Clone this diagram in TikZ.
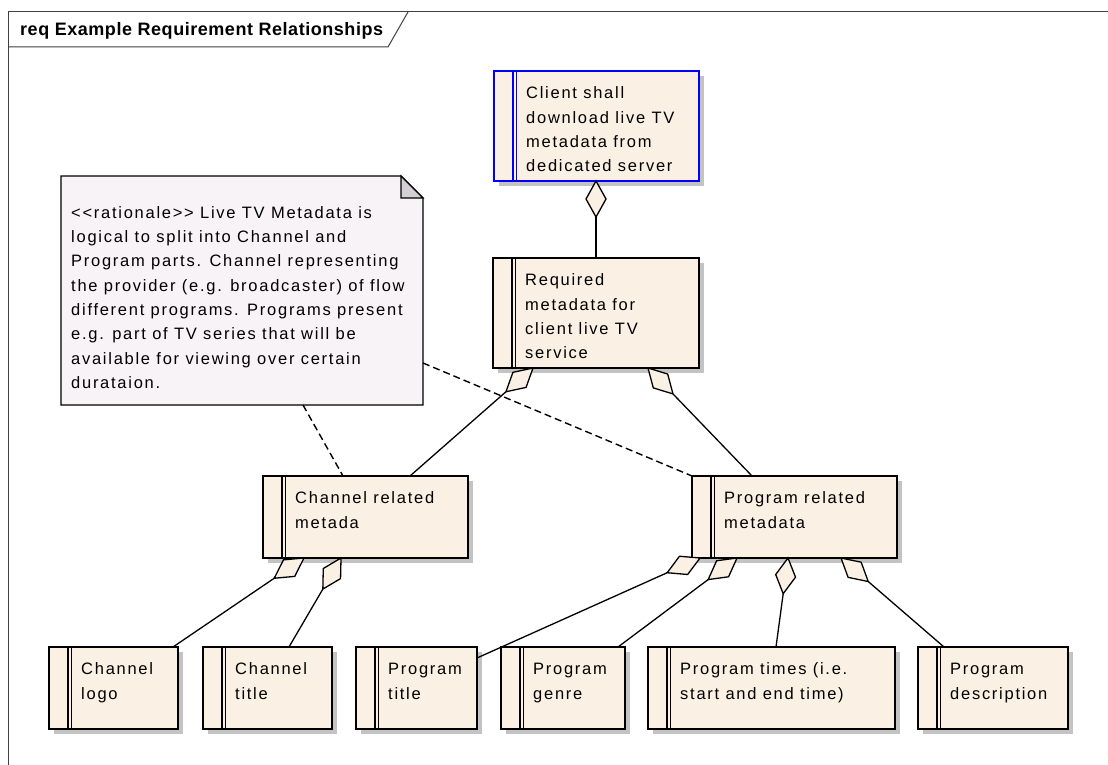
\documentclass[tikz,border=0pt]{standalone}
\usepackage{fontspec}
\setmainfont{Liberation Sans}
\newfontfamily\bodyfont{Liberation Sans}[LetterSpace=10.5]
\newfontfamily\headfont{Liberation Sans}[LetterSpace=3]
\usetikzlibrary{calc}

\definecolor{reqfill}{HTML}{FAF0E4}
\definecolor{notefill}{HTML}{F7F3F7}
\definecolor{foldfill}{HTML}{D3D0D3}
\definecolor{shadowgray}{HTML}{C3C3C3}
\definecolor{selblue}{HTML}{0000FF}
\definecolor{framegray}{HTML}{404040}

% requirement block: [border colour]{name}{x}{y}{width}{height}{text}
\newcommand\reqbox[7][black]{%
  \fill[shadowgray] (#3+5,#4+5) rectangle ++(#5,#6);
  \node[req, draw=#1, minimum width=#5pt, minimum height=#6pt] (#2) at (#3,#4) {};
  \draw[#1, line width=1.3pt]
    ($(#2.north west)+(19,0)$) -- ($(#2.south west)+(19,0)$)
    ($(#2.north west)+(22.5,0)$) -- ($(#2.south west)+(22.5,0)$);
  \node[reqtext] (#2-t) at ($(#2.north west)+(32,15.5)$) {\rule{0pt}{12pt}#7};
}

% aggregation: hollow diamond at the whole end, plain line to the part
\newcommand\aggr[2]{%
  \coordinate (dm) at ($(#1)!18pt!(#2)$);
  \coordinate (dq) at ($(#1)!36pt!(#2)$);
  \draw[conn] (dq) -- (#2);
  \draw[conn, fill=reqfill] (#1) -- ($(dm)!10pt!90:(#2)$) -- (dq)
    -- ($(dm)!10pt!-90:(#2)$) -- cycle;
}

\begin{document}
\begin{tikzpicture}[x=1pt, y=-1pt,
  req/.style={rectangle, fill=reqfill, line width=1.4pt, inner sep=0pt,
    outer sep=0pt, anchor=north west},
  reqtext/.style={anchor=north west, inner sep=0pt, align=left,
    font=\bodyfont\fontsize{16.5}{24.3}\selectfont},
  conn/.style={line width=1.3pt, line join=miter},
  trace/.style={line width=1.4pt, dash pattern=on 7pt off 4pt},
  framepen/.style={draw=framegray, line width=1pt}]

\useasboundingbox (0,0) rectangle (1108,765);
\fill[white] (0,0) rectangle (1108,765);

% diagram frame with its name tab
\draw[framepen] (8,765) -- (8,12) -- (1108,12);
\draw[framepen] (8,47) -- (388,47) -- (408,12);
\node[anchor=base west, inner sep=0pt,
  font=\headfont\bfseries\fontsize{18}{20}\selectfont] (title) at (20,36)
  {req Example Requirement Relationships};

% rationale note
\node[rectangle, inner sep=0pt, outer sep=0pt, minimum width=362pt,
  minimum height=229pt, anchor=north west] (note) at (61,176) {};
\draw[line width=1.3pt, fill=notefill]
  (note.north west) -- ($(note.north east)+(-22,0)$) -- ($(note.north east)+(0,22)$)
  -- (note.south east) -- (note.south west) -- cycle;
\draw[line width=1.1pt, fill=foldfill]
  ($(note.north east)+(-22,0)$) -- ($(note.north east)+(-22,22)$)
  -- ($(note.north east)+(0,22)$) -- cycle;
\node[reqtext] (note-t) at (71,206) {\rule{0pt}{12pt}%
  <{}<rationale>{}> Live TV Metadata is\\
  logical to split into Channel and\\
  Program parts. Channel representing\\
  the provider (e.g. broadcaster) of flow\\
  different programs. Programs present\\
  e.g. part of TV series that will be\\
  available for viewing over certain\\
  durataion.};

% requirements
\reqbox[selblue]{client}{494}{71}{205}{110}{Client shall\\download live TV\\metadata from\\dedicated server}
\reqbox{reqd}{493}{258}{206}{110}{Required\\metadata for\\client live TV\\service}
\reqbox{chrel}{263}{476}{205}{82}{Channel related\\metada}
\reqbox{prrel}{692}{476}{205}{82}{Program related\\metadata}
\reqbox{chlogo}{49}{647}{129}{82}{Channel\\logo}
\reqbox{chtitle}{203}{647}{129}{82}{Channel\\title}
\reqbox{prtitle}{356}{647}{121}{82}{Program\\title}
\reqbox{prgenre}{501}{647}{124}{82}{Program\\genre}
\reqbox{prtimes}{648}{647}{247}{82}{Program times (i.e.\\start and end time)}
\reqbox{prdesc}{918}{647}{150}{82}{Program\\description}

% trace links from the note
\draw[trace] ($(note.north east)+(0,187)$) -- (prrel.north west);
\draw[trace] ($(note.south west)+(242,0)$) -- ($(chrel.north west)+(80,0)$);

% aggregation ends
\coordinate (a1) at ($(client.south west)+(102,0)$);
\coordinate (b1) at ($(reqd.north west)+(103,0)$);
\coordinate (a2) at ($(reqd.south west)+(40,0)$);
\coordinate (b2) at ($(chrel.north west)+(147,0)$);
\coordinate (a3) at ($(reqd.south west)+(155,0)$);
\coordinate (b3) at ($(prrel.north west)+(60,0)$);
\coordinate (a4) at ($(chrel.south west)+(41,0)$);
\coordinate (b4) at ($(chlogo.north west)+(124,0)$);
\coordinate (a5) at ($(chrel.south west)+(78,0)$);
\coordinate (b5) at ($(chtitle.north west)+(86,0)$);
\coordinate (a6) at ($(prrel.south west)+(8,0)$);
\coordinate (b6) at ($(prtitle.north east)+(0,11)$);
\coordinate (a7) at ($(prrel.south west)+(45,0)$);
\coordinate (b7) at ($(prgenre.north west)+(117,0)$);
\coordinate (a8) at ($(prrel.south west)+(96,0)$);
\coordinate (b8) at ($(prtimes.north west)+(128,0)$);
\coordinate (a9) at ($(prrel.south west)+(149,0)$);
\coordinate (b9) at ($(prdesc.north west)+(26,0)$);

\aggr{a1}{b1}
\aggr{a2}{b2}
\aggr{a3}{b3}
\aggr{a4}{b4}
\aggr{a5}{b5}
\aggr{a6}{b6}
\aggr{a7}{b7}
\aggr{a8}{b8}
\aggr{a9}{b9}

\end{tikzpicture}
\end{document}
